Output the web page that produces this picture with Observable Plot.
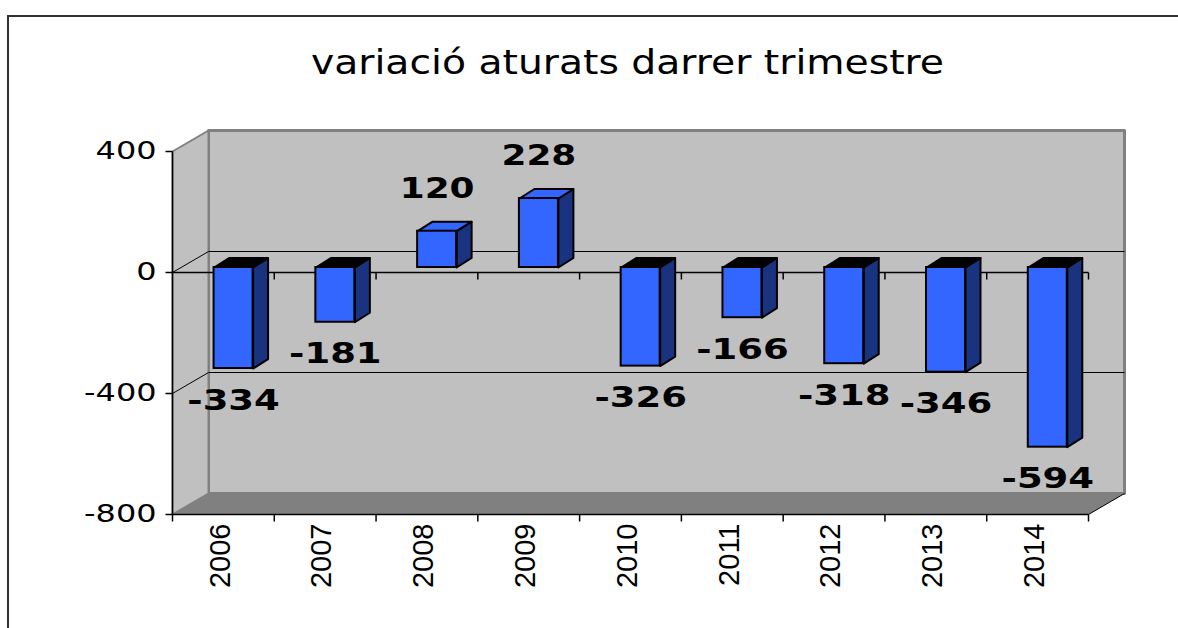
<!DOCTYPE html>
<html><head><meta charset="utf-8">
<script src="https://cdn.jsdelivr.net/npm/d3@7"></script>
<script src="https://cdn.jsdelivr.net/npm/@observablehq/plot@0.6"></script>
<style>
body{margin:0;background:#fff;}
#wrap{position:relative;width:1178px;height:628px;overflow:hidden;background:#fff;}
#chart{position:absolute;left:0;top:0;}
#frame{position:absolute;left:7px;top:15px;width:1300px;height:800px;border-left:2px solid #333;border-top:2px solid #333;pointer-events:none;}
</style></head><body>
<div id="wrap"><div id="chart"></div><div id="frame"></div></div>
<script>
// ---- data ----
const years = ["2006","2007","2008","2009","2010","2011","2012","2013","2014"];
const values = [-334,-181,120,228,-326,-166,-318,-346,-594];
const yTicks = [-800,-400,0,400];
const wallGrid = [0,-400];
const titleText = "variació aturats darrer trimestre";

// ---- layout ----
const W=1178, H=628, mL=172, mR=90, mT=151, mB=114;
const n = years.length;
const yMin=-800, yMax=400;
const pxX=(W-mL-mR)/n, pxY=(H-mT-mB)/(yMax-yMin);
const DX=36/pxX, DY=21/pxY;                 // wall depth in data units
const barW=39/pxX, barOff=0.1, barZ=5/pxY;  // bar front face
const barDX=15/pxX, barDY=9.5/pxY;          // bar depth
const tickX=7/pxX, tickY=7/pxY;

const poly=(id,pts)=>pts.map(([x,y])=>({id,x,y}));
const back = poly("back",[[DX,yMin+DY],[n+DX,yMin+DY],[n+DX,yMax+DY],[DX,yMax+DY]]);
const left = poly("left",[[0,yMin],[DX,yMin+DY],[DX,yMax+DY],[0,yMax]]);
const floor = poly("floor",[[0,yMin],[n,yMin],[n+DX,yMin+DY],[DX,yMin+DY]]);

const bars = values.map((v,i)=>{
  const xl=i+0.5+barOff-barW/2;
  return {i, v, year:years[i], xl, xr:xl+barW, xc:xl+barW/2, b:barZ, e:v+barZ, top:Math.max(v,0)+barZ};
});
const sides = bars.flatMap(d=>poly(d.i,[[d.xr,d.b],[d.xr,d.e],[d.xr+barDX,d.e+barDY],[d.xr+barDX,d.b+barDY]]));
const topPoly = d=>poly(d.i,[[d.xl,d.top],[d.xr,d.top],[d.xr+barDX,d.top+barDY],[d.xl+barDX,d.top+barDY]]);
const topsNeg = bars.filter(d=>d.v<0).flatMap(topPoly);
const topsPos = bars.filter(d=>d.v>=0).flatMap(topPoly);

const P = {x:"x", y:"y", z:"id", curve:"linear-closed"};

const svg = Plot.plot({
  width:W, height:H, marginLeft:mL, marginRight:mR, marginTop:mT, marginBottom:mB,
  x:{domain:[0,n], axis:null},
  y:{domain:[yMin,yMax], axis:null},
  style:{background:"transparent", overflow:"visible"},
  marks:[
    Plot.line(back,{...P, fill:"#c0c0c0", stroke:"#808080", strokeWidth:3}),
    Plot.line(left,{...P, fill:"#c0c0c0", stroke:"#808080", strokeWidth:2}),
    Plot.line(floor,{...P, fill:"#808080", stroke:"none"}),
    Plot.link(wallGrid,{x1:0, y1:d=>d, x2:DX, y2:d=>d+DY, stroke:"#000", strokeWidth:1}),
    Plot.link(wallGrid,{x1:DX, y1:d=>d+DY, x2:n+DX, y2:d=>d+DY, stroke:"#000", strokeWidth:1}),
    Plot.link([yMin],{x1:n, y1:d=>d, x2:n+DX, y2:d=>d+DY, stroke:"#000", strokeWidth:1}),
    // front category axis at zero
    Plot.link([0],{x1:0, x2:n, y1:d=>d, y2:d=>d, stroke:"#000", strokeWidth:1.5}),
    Plot.link(d3.range(1,n+1),{x1:d=>d, x2:d=>d, y1:0, y2:-tickY, stroke:"#000", strokeWidth:1.5}),
    // bars
    Plot.line(sides,{...P, fill:"#1a3380", stroke:"#000", strokeWidth:2}),
    Plot.line(topsNeg,{...P, fill:"#000", stroke:"#000", strokeWidth:2}),
    Plot.line(topsPos,{...P, fill:"#3366ff", stroke:"#000", strokeWidth:2}),
    Plot.rect(bars,{x1:"xl", x2:"xr", y1:"b", y2:"e", fill:"#3366ff", stroke:"#000", strokeWidth:2}),
    // y axis
    Plot.link([0],{x1:d=>d, x2:d=>d, y1:yMin, y2:yMax, stroke:"#000", strokeWidth:1.5}),
    Plot.link(yTicks,{x1:0, x2:-tickX, y1:d=>d, y2:d=>d, stroke:"#000", strokeWidth:1.5}),
    // bottom axis
    Plot.link([yMin],{x1:0, x2:n, y1:d=>d, y2:d=>d, stroke:"#000", strokeWidth:1.5}),
    Plot.link(d3.range(0,n+1),{x1:d=>d, x2:d=>d, y1:yMin, y2:yMin-tickY, stroke:"#000", strokeWidth:1.5}),
    // texts
    Plot.text([titleText],{frameAnchor:"top", text:d=>d, dy:-78, dx:-3, lineAnchor:"bottom", fontSize:33, fontFamily:"DejaVu Sans", fill:"#000"}),
    Plot.text(yTicks,{x:0, y:d=>d, text:d=>String(d), textAnchor:"end", dx:-16, fontSize:24, fontFamily:"DejaVu Sans", fill:"#000"}),
    Plot.text(years,{x:(d,i)=>i+0.5, y:yMin, text:d=>d, rotate:-90, textAnchor:"end", dy:9, dx:-3, fontSize:29, fontFamily:"Liberation Sans", fill:"#000"}),
    Plot.text(bars.filter(d=>d.v<0),{x:"xc", y:"e", text:d=>String(d.v), dy:32, fontSize:28, fontWeight:"bold", fontFamily:"DejaVu Sans", fill:"#000"}),
    Plot.text(bars.filter(d=>d.v>=0),{x:"xc", y:"e", text:d=>String(d.v), dy:-42, fontSize:28, fontWeight:"bold", fontFamily:"DejaVu Sans", fill:"#000"})
  ]
});
document.getElementById("chart").appendChild(svg);

// horizontally widen texts like the original rendering
const groups = svg.querySelectorAll('g[aria-label="text"]');
const stretch=(g,k)=>{ if(!g) return; g.querySelectorAll("text").forEach(t=>{
  const w=t.getComputedTextLength(); t.setAttribute("textLength", w*k); t.setAttribute("lengthAdjust","spacingAndGlyphs");});};
stretch(groups[0],1.19);
stretch(groups[1],1.33);
stretch(groups[3],1.32);
stretch(groups[4],1.28);
</script>
</body></html>
